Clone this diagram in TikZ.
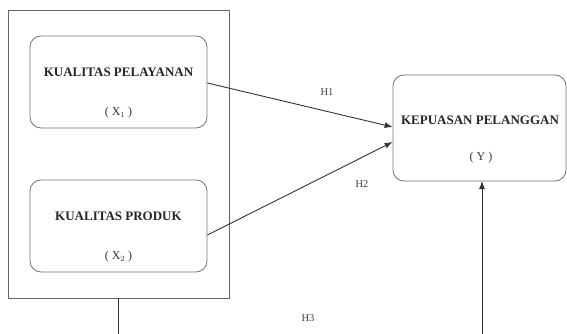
\documentclass[tikz,border=0pt]{standalone}
\usepackage{fontspec}
\setmainfont{Liberation Serif}
\usetikzlibrary{arrows.meta,calc}
\begin{document}
\begin{tikzpicture}[x=1pt,y=-1pt,
  frame/.style={draw=black!60,line width=0.9pt,minimum width=#1,inner sep=0pt},
  rbox/.style={draw=black!55,line width=0.8pt,rounded corners=11pt,inner sep=0pt,minimum width=177pt,minimum height=92pt},
  title/.style={font=\fontsize{13}{15}\selectfont\bfseries,text=black!85,inner sep=0pt},
  var/.style={font=\fontsize{12}{14}\selectfont,text=black!80,inner sep=0pt},
  hyp/.style={font=\fontsize{10.5}{12}\selectfont,text=black!75,inner sep=0pt},
  conn/.style={draw=black!80,line width=0.9pt},
  arr/.style={conn,-{Latex[length=8pt,width=6pt]}}]
\useasboundingbox (0,0) rectangle (567,334);
\node[frame=221pt,minimum height=288pt] (outer) at (118.5,154) {};
\node[rbox] (b1) at (118.5,82) {};
\node[rbox] (b2) at (118.5,226) {};
\node[rbox,minimum width=173pt,minimum height=106pt] (y) at (479.5,128) {};
\node[title] (t1) at (118.5,72) {KUALITAS PELAYANAN};
\node[var] (v1) at (118.5,113) {( X$_1$ )};
\node[title] (t2) at (118.5,216) {KUALITAS PRODUK};
\node[var] (v2) at (118.5,257) {( X$_2$ )};
\node[title] (ty) at (480,120) {KEPUASAN PELANGGAN};
\node[var] (vy) at (481,158) {( Y )};
\node[hyp] (h1) at (327,92) {H1};
\node[hyp] (h2) at (362,184) {H2};
\node[hyp] (h3) at (308,318) {H3};
\coordinate (lb) at (118,334);
\coordinate (rb) at (482,334);
\coordinate (ya) at (482,181);
\draw[arr] ($(b1.east)+(0,1)$) -- ($(y.west)+(0,-1)$);
\draw[arr] ($(b2.east)+(0,9)$) -- ($(y.west)+(0,14)$);
\draw[conn] (outer.south -| lb) -- (lb);
\draw[arr] (rb) -- (ya);
\end{tikzpicture}
\end{document}
